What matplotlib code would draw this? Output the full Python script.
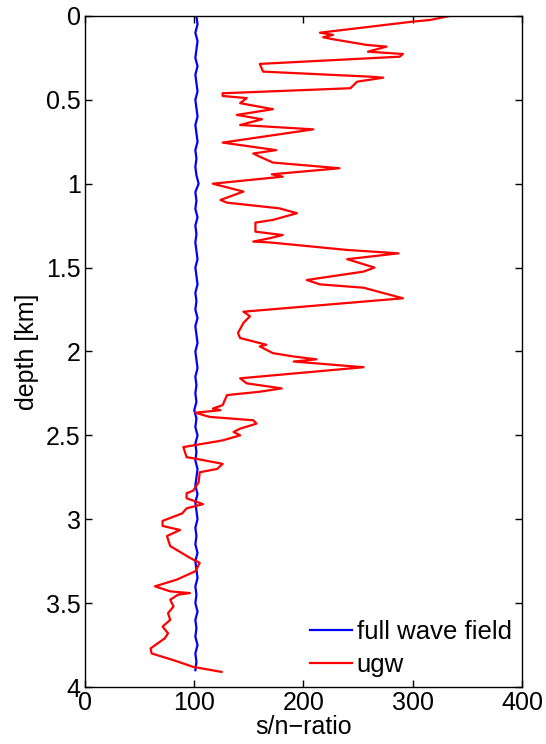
import matplotlib
matplotlib.use("Agg")
import matplotlib.pyplot as plt

plt.rcParams['font.family'] = ['Liberation Sans', 'DejaVu Sans']

# ugw s/n-ratio vs depth
ugw_depth = [0.0, 0.024, 0.034, 0.10, 0.113, 0.127, 0.139, 0.173, 0.183, 0.213, 0.227, 0.243,
             0.286, 0.332, 0.362, 0.368, 0.392, 0.431, 0.461, 0.477, 0.49, 0.52, 0.556, 0.59,
             0.616, 0.65, 0.676, 0.755, 0.80, 0.82, 0.839, 0.874, 0.908, 0.944, 0.958, 1.00,
             1.047, 1.097, 1.113, 1.147, 1.176, 1.216, 1.232, 1.286, 1.306, 1.325, 1.345, 1.35,
             1.395, 1.415, 1.45, 1.50, 1.524, 1.574, 1.60, 1.62, 1.683, 1.763, 1.79, 1.83,
             1.89, 1.92, 1.96, 1.97, 2.01, 2.03, 2.047, 2.06, 2.094, 2.16, 2.19, 2.22, 2.24,
             2.26, 2.32, 2.34, 2.35, 2.365, 2.39, 2.41, 2.43, 2.46, 2.48, 2.50, 2.53, 2.57,
             2.63, 2.64, 2.67, 2.70, 2.72, 2.78, 2.83, 2.845, 2.875, 2.91, 2.935, 2.965, 3.01,
             3.04, 3.064, 3.10, 3.16, 3.23, 3.26, 3.31, 3.36, 3.40, 3.43, 3.44, 3.45, 3.48,
             3.52, 3.56, 3.60, 3.64, 3.68, 3.71, 3.77, 3.80, 3.84, 3.88, 3.91]
ugw_snr = [334, 316, 300, 215, 227, 218, 227, 258, 276, 259, 291, 288,
           160, 163, 261, 273, 249, 243, 126, 126, 148, 142, 172, 139,
           162, 142, 209, 126, 175, 154, 160, 172, 233, 171, 181, 117,
           145, 124, 130, 178, 194, 172, 156, 156, 181, 169, 154, 169,
           240, 287, 240, 265, 255, 203, 215, 255, 291, 145, 151, 145,
           140, 142, 166, 160, 172, 191, 212, 191, 255, 142, 148, 180, 160,
           130, 126, 117, 124, 101, 114, 154, 157, 142, 136, 142, 126, 90,
           93, 102, 126, 121, 105, 104, 99, 93, 93, 108, 93, 89, 71,
           71, 87, 75, 78, 96, 105, 101, 84, 64, 78, 96, 85, 78,
           81, 76, 78, 71, 76, 73, 60, 61, 81, 99, 125]

# full wave field stays close to 100
full_depth = [0.0, 0.05, 0.1, 0.15, 0.2, 0.25, 0.3, 0.35, 0.4, 0.45, 0.5, 0.55, 0.6, 0.65,
              0.7, 0.75, 0.8, 0.85, 0.9, 0.95, 1.0, 1.05, 1.1, 1.15, 1.2, 1.25, 1.3, 1.35,
              1.4, 1.45, 1.5, 1.55, 1.6, 1.65, 1.7, 1.75, 1.8, 1.85, 1.9, 1.95, 2.0, 2.05,
              2.1, 2.15, 2.2, 2.25, 2.3, 2.35, 2.4, 2.45, 2.5, 2.55, 2.6, 2.65, 2.7, 2.75,
              2.8, 2.85, 2.9, 2.95, 3.0, 3.05, 3.1, 3.15, 3.2, 3.25, 3.3, 3.35, 3.4, 3.45,
              3.5, 3.55, 3.6, 3.65, 3.7, 3.75, 3.8, 3.85, 3.9]
full_snr = [102, 103, 101, 103, 102, 101, 103, 101, 102, 103, 101, 102, 103, 101,
            102, 103, 101, 102, 101, 102, 104, 101, 102, 101, 103, 101, 102, 101,
            102, 103, 101, 102, 103, 101, 102, 101, 103, 101, 102, 103, 101, 102,
            103, 101, 102, 101, 102, 100, 102, 101, 103, 101, 102, 101, 103, 102,
            101, 103, 101, 102, 103, 101, 102, 101, 103, 101, 102, 103, 101, 102,
            101, 103, 101, 102, 101, 103, 101, 102, 101]

fig = plt.figure(figsize=(5.46, 7.44), dpi=100)
ax = fig.add_axes([0.1557, 0.0766, 0.8003, 0.902])

ax.plot(full_snr, full_depth, color='#0000ff', lw=1.6, label='full wave field')
ax.plot(ugw_snr, ugw_depth, color='#ff0000', lw=1.6, label='ugw')

ax.set_xlim(0, 400)
ax.set_ylim(4, 0)
ax.set_xticks([0, 100, 200, 300, 400])
ax.set_yticks([0, 0.5, 1, 1.5, 2, 2.5, 3, 3.5, 4])
ax.set_yticklabels(['0', '0.5', '1', '1.5', '2', '2.5', '3', '3.5', '4'])
ax.tick_params(direction='in', top=True, right=True, labelsize=18, length=5, width=1, pad=3)
for s in ax.spines.values():
    s.set_linewidth(1)

ax.set_xlabel('s/n\u2212ratio', fontsize=18, labelpad=0)
ax.set_ylabel('depth [km]', fontsize=18, labelpad=5)

ax.legend(loc='lower right', frameon=False, fontsize=18.5, handlelength=1.6,
          handletextpad=0.2, borderaxespad=0.1, labelspacing=0.35, borderpad=0.3)

fig.savefig('out.png', dpi=100)
